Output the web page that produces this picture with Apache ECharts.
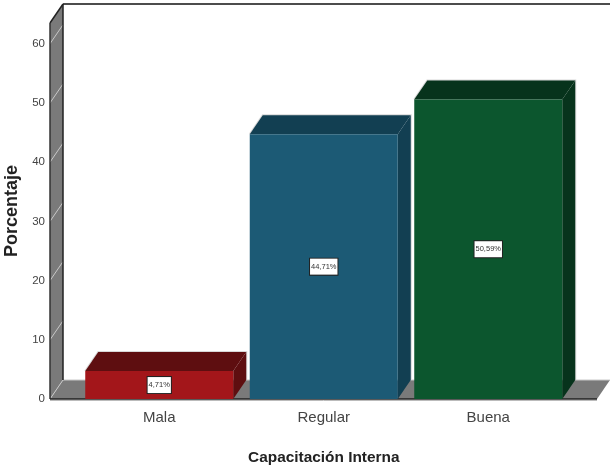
<!DOCTYPE html>
<html>
<head>
<meta charset="utf-8">
<style>html,body{margin:0;padding:0;background:#fff}#chart{width:610px;height:466px}</style>
<script src="https://cdn.jsdelivr.net/npm/echarts@6/dist/echarts.min.js"></script>
</head>
<body>
<div id="chart"></div>
<script>
// Capacitación Interna: percentage per rating, drawn as extruded 3D bars
const categories = ['Mala', 'Regular', 'Buena'];
const percentages = [4.71, 44.71, 50.59];
const percentLabels = ['4,71%', '44,71%', '50,59%'];
const yTicks = [0, 10, 20, 30, 40, 50, 60];
const yMax = 63.5;
const frontColors = ['#A3161A', '#1C5A75', '#0C562E'];
const topColors = ['#5E0E10', '#123F52', '#07331C'];
const sideColors = ['#5E0E10', '#123F52', '#07331C'];

// Projection offset between the front plane and the back wall, in pixels
const DX = 13, DY = -19;
const BAR_WIDTH = 148;
const WALL_LEFT = 50, WALL_RIGHT = 597;

function poly(points, fill, stroke) {
  return { type: 'polygon', shape: { points }, style: { fill, stroke: stroke || null, lineWidth: stroke ? 1 : 0 } };
}
function line(x1, y1, x2, y2, stroke, lineWidth) {
  return { type: 'line', shape: { x1, y1, x2, y2 }, style: { stroke, lineWidth: lineWidth || 1 } };
}

// Back wall outline, left wall and floor of the 3D box
function renderBox(params, api) {
  const y0 = api.coord([0, 0])[1];
  const yTop = api.coord([0, yMax])[1];
  const wall = '#7A7A7A';
  const children = [
    poly([[WALL_LEFT, y0], [WALL_LEFT + DX, y0 + DY], [WALL_LEFT + DX, yTop + DY], [WALL_LEFT, yTop]], wall),
    poly([[WALL_LEFT, y0], [WALL_RIGHT, y0], [WALL_RIGHT + DX, y0 + DY], [WALL_LEFT + DX, y0 + DY]], wall)
  ];
  yTicks.forEach(function (t) {
    const y = api.coord([0, t])[1];
    children.push(line(WALL_LEFT, y, WALL_LEFT + DX, y + DY, '#C8C8C8'));
  });
  children.push(line(WALL_LEFT + DX, y0 + DY, WALL_RIGHT + DX, y0 + DY, '#C8C8C8'));
  children.push(line(WALL_LEFT + DX, yTop + DY, WALL_RIGHT + DX, yTop + DY, '#111', 1.5));
  children.push(line(WALL_LEFT + DX, yTop + DY, WALL_LEFT + DX, y0 + DY, '#222', 1.5));
  children.push(line(WALL_LEFT, yTop, WALL_LEFT + DX, yTop + DY, '#222', 1.5));
  children.push(line(WALL_LEFT, yTop, WALL_LEFT, y0, '#333', 1.5));
  children.push(line(WALL_LEFT, y0, WALL_RIGHT, y0, '#222', 1.5));
  children.push(line(WALL_LEFT, y0 + 1.5, WALL_RIGHT, y0 + 1.5, '#BBB', 1));
  return { type: 'group', children };
}

function renderBar(params, api) {
  const i = api.value(0);
  const top = api.coord([i, api.value(1)]);
  const base = api.coord([i, 0]);
  const l = top[0] - BAR_WIDTH / 2, r = top[0] + BAR_WIDTH / 2;
  const yT = top[1], yB = base[1];
  return {
    type: 'group',
    children: [
      // light rim on the back edges
      { type: 'polyline', shape: { points: [[l, yT], [l + DX, yT + DY], [r + DX, yT + DY], [r + DX, yB + DY]] }, style: { fill: null, stroke: '#D8D8D8', lineWidth: 2 } },
      poly([[l, yT], [l + DX, yT + DY], [r + DX, yT + DY], [r, yT]], topColors[i]),
      poly([[r, yT], [r + DX, yT + DY], [r + DX, yB + DY], [r, yB]], sideColors[i]),
      { type: 'rect', shape: { x: l, y: yT, width: BAR_WIDTH, height: yB - yT }, style: { fill: frontColors[i] } },
      {
        type: 'text',
        x: top[0],
        y: (yT + yB) / 2,
        style: {
          text: percentLabels[i],
          fontFamily: 'Liberation Sans',
          fontSize: 7.5,
          fill: '#333',
          align: 'center',
          verticalAlign: 'middle',
          backgroundColor: '#fff',
          borderColor: '#222',
          borderWidth: 1,
          padding: [4, 1, 4, 1]
        }
      }
    ]
  };
}

const chart = echarts.init(document.getElementById('chart'), null, { renderer: 'canvas' });
chart.setOption({
  animation: false,
  backgroundColor: '#fff',
  grid: { left: 77, top: 23, width: 493.5, height: 376, outerBoundsMode: 'none', containLabel: false },
  xAxis: {
    type: 'category',
    data: categories,
    axisLine: { show: false },
    axisTick: { show: false },
    axisLabel: { fontFamily: 'Liberation Sans', fontSize: 15, color: '#444', margin: 11 },
    name: 'Capacitación Interna',
    nameLocation: 'middle',
    nameGap: 51,
    nameTextStyle: { fontFamily: 'Liberation Sans', fontSize: 15.4, fontWeight: 'bold', color: '#222' }
  },
  yAxis: {
    type: 'value',
    min: 0,
    max: yMax,
    interval: 10,
    offset: 27,
    axisLine: { show: false },
    axisTick: { show: false },
    splitLine: { show: false },
    axisLabel: { customValues: yTicks, fontFamily: 'Liberation Sans', fontSize: 11.5, color: '#444', margin: 5, padding: [2, 0, 0, 0] },
    name: 'Porcentaje',
    nameLocation: 'middle',
    nameGap: 28,
    nameTextStyle: { fontFamily: 'Liberation Sans', fontSize: 18, fontWeight: 'bold', color: '#222' }
  },
  series: [
    { type: 'custom', clip: false, silent: true, z: 1, renderItem: renderBox, data: [[0, 0]] },
    {
      type: 'custom',
      clip: false,
      silent: true,
      z: 2,
      renderItem: renderBar,
      encode: { x: 0, y: 1 },
      data: percentages.map(function (v, i) { return [i, v]; })
    }
  ]
});
</script>
</body>
</html>
